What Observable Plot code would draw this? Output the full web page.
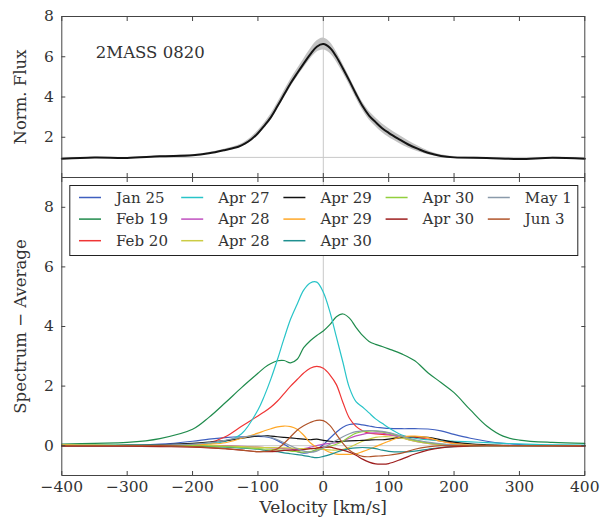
<!DOCTYPE html>
<html><head><meta charset="utf-8">
<script src="https://cdn.jsdelivr.net/npm/d3@7"></script>
<script src="https://cdn.jsdelivr.net/npm/@observablehq/plot@0.6"></script>
<style>
body{margin:0;background:#fff}
#wrap{position:relative;width:606px;height:517px;overflow:hidden}
#wrap svg{position:absolute;left:0;top:0}
#wrap svg, #wrap svg text{font-family:"DejaVu Serif" !important}
</style></head>
<body><div id="wrap"></div>
<script>
// ---------- data ----------
const topV     = [-400,-350,-300,-250,-200,-175,-150,-130,-120,-110,-100,-90,-80,-70,-60,-50,-40,-30,-20,-10,0,10,20,30,40,50,60,70,80,90,100,115,130,145,160,180,200,250,300,350,400];
const meanFlux = [0.93,0.99,0.97,1.05,1.10,1.20,1.37,1.53,1.68,1.90,2.20,2.58,3.00,3.55,4.12,4.68,5.18,5.66,6.12,6.50,6.63,6.45,6.00,5.42,4.80,4.15,3.55,3.08,2.75,2.45,2.22,1.92,1.64,1.42,1.23,1.07,1.00,0.97,0.92,0.98,0.93];
const stdFlux  = [0.02,0.02,0.02,0.02,0.03,0.04,0.05,0.07,0.08,0.10,0.12,0.13,0.15,0.16,0.18,0.19,0.20,0.22,0.25,0.28,0.30,0.28,0.25,0.22,0.20,0.20,0.20,0.21,0.22,0.22,0.22,0.20,0.18,0.14,0.10,0.06,0.04,0.02,0.02,0.02,0.02];

const V = [-400,-350,-300,-250,-200,-175,-150,-125,-100,-90,-80,-70,-60,-50,-40,-30,-20,-10,0,10,20,30,40,50,60,70,80,90,100,120,140,160,180,200,225,250,275,300,350,400];
const jan25  = [0,0,0.02,0.05,0.15,0.22,0.27,0.30,0.31,0.30,0.26,0.17,0.05,-0.08,-0.20,-0.25,-0.22,-0.12,0.03,0.25,0.45,0.62,0.71,0.73,0.70,0.66,0.62,0.60,0.58,0.57,0.57,0.56,0.50,0.38,0.25,0.15,0.08,0.04,0.01,0];
const feb19  = [0.05,0.08,0.11,0.24,0.55,0.95,1.44,1.95,2.43,2.62,2.76,2.85,2.86,2.78,2.90,3.29,3.52,3.70,3.85,4.06,4.33,4.42,4.28,3.97,3.70,3.50,3.40,3.33,3.25,3.08,2.85,2.45,2.12,1.78,1.20,0.66,0.32,0.19,0.11,0.08];
const feb20  = [0,0,0,0,0.05,0.10,0.30,0.65,1.00,1.14,1.30,1.50,1.75,2.00,2.22,2.44,2.60,2.66,2.60,2.38,2.05,1.45,0.92,0.65,0.50,0.42,0.40,0.38,0.36,0.32,0.28,0.22,0.15,0.08,0.03,0.01,0,0,0,0];
const apr27  = [0.02,0.03,0.03,0.03,0.05,0.08,0.14,0.40,1.20,1.68,2.25,2.90,3.60,4.25,4.75,5.22,5.46,5.49,5.15,4.50,3.65,2.80,1.94,1.48,1.30,1.10,0.90,0.75,0.60,0.36,0.25,0.20,0.17,0.15,0.13,0.10,0.08,0.06,0.03,0.02];
const apr28a = [0,0,0,0,0,0,0,-0.02,-0.05,-0.06,-0.07,-0.08,-0.10,-0.11,-0.12,-0.10,-0.05,0,0.05,0.08,0.10,0.15,0.25,0.33,0.38,0.42,0.43,0.42,0.38,0.27,0.15,0.08,0.03,0.01,0,0,0,0,0,0];
const apr28b = [0.03,0.02,0.01,0,0,0,-0.01,-0.03,-0.05,-0.06,-0.06,-0.07,-0.07,-0.08,-0.09,-0.10,-0.10,-0.11,-0.12,-0.14,-0.15,-0.12,-0.05,0.05,0.15,0.22,0.28,0.30,0.30,0.25,0.15,0.08,0.04,0.02,0,0,0,0,0,0];
const apr29a = [0,0,0.01,0.03,0.08,0.12,0.17,0.25,0.33,0.34,0.32,0.30,0.28,0.26,0.24,0.22,0.20,0.22,0.18,0.15,0.14,0.15,0.16,0.17,0.18,0.19,0.20,0.20,0.22,0.28,0.30,0.28,0.20,0.12,0.06,0.03,0.01,0,0,0];
const apr29b = [0.02,0.01,0,0,0.02,0.05,0.10,0.25,0.42,0.50,0.57,0.63,0.66,0.64,0.55,0.35,0.10,-0.05,-0.12,-0.22,-0.28,-0.29,-0.29,-0.27,-0.20,-0.12,-0.03,0.06,0.15,0.30,0.32,0.27,0.15,0.07,0.03,0.01,0,0,0,0];
const apr30a = [-0.01,-0.01,-0.01,-0.01,-0.02,-0.03,-0.05,-0.08,-0.12,-0.15,-0.18,-0.20,-0.24,-0.27,-0.30,-0.33,-0.37,-0.40,-0.36,-0.30,-0.22,-0.15,-0.10,-0.07,-0.06,-0.07,-0.10,-0.15,-0.19,-0.21,-0.18,-0.12,-0.06,-0.03,-0.01,0,0,0,0,0];
const apr30b = [0,0,0,0,0,-0.01,-0.03,-0.06,-0.10,-0.11,-0.12,-0.14,-0.15,-0.18,-0.20,-0.22,-0.20,-0.15,-0.08,-0.02,0.05,0.15,0.30,0.42,0.47,0.49,0.49,0.46,0.42,0.30,0.18,0.10,0.05,0.02,0,0,0,0,0,0];
const apr30c = [-0.02,-0.02,-0.02,-0.03,-0.05,-0.07,-0.10,-0.15,-0.20,-0.20,-0.20,-0.18,-0.16,-0.15,-0.15,-0.13,-0.10,-0.08,-0.05,-0.05,-0.10,-0.15,-0.22,-0.32,-0.45,-0.55,-0.61,-0.62,-0.60,-0.45,-0.28,-0.15,-0.07,-0.03,-0.01,0,0,0,-0.01,-0.02];
const may1   = [0,0,0,0.02,0.05,0.10,0.18,0.28,0.35,0.33,0.28,0.20,0.10,0,-0.10,-0.18,-0.22,-0.18,-0.08,0.05,0.18,0.30,0.40,0.47,0.50,0.51,0.50,0.48,0.44,0.32,0.20,0.12,0.06,0.03,0.01,0,0,0,0,0];
const jun3   = [0,0,0,0,-0.03,-0.06,-0.10,-0.15,-0.20,-0.19,-0.17,-0.10,0.08,0.30,0.52,0.67,0.78,0.85,0.84,0.68,0.38,0.08,-0.15,-0.28,-0.36,-0.37,-0.35,-0.34,-0.32,-0.25,-0.12,-0.04,0,0,0,0,0,0,0,0];

const seriesNames  = ["Jan 25","Feb 19","Feb 20","Apr 27","Apr 28","Apr 28","Apr 29","Apr 29","Apr 30","Apr 30","Apr 30","May 1","Jun 3"];
const seriesColors = ["#3f5fbf","#1f8b4c","#ef3535","#28c4c8","#c050c0","#cccc44","#111111","#ffa828","#1f9090","#92cf3c","#9e1e1e","#8a9aaa","#b0542a"];
const seriesValues = [jan25,feb19,feb20,apr27,apr28a,apr28b,apr29a,apr29b,apr30a,apr30b,apr30c,may1,jun3];

const xTicks = [-400,-300,-200,-100,0,100,200,300,400];
const yTicksTop = [2,4,6,8];
const yTicksBottom = [0,2,4,6,8];

// ---------- layout ----------
const FONT = "DejaVu Serif";
const W = 606, ML = 61.3, MR = 21.7;
const TXT = "#333", FR = "#444", GRID = "#c8c8c8";
const minus = d => d < 0 ? "\u2212" + (-d) : String(d);

function sideTicks(yt) {
  return [
    Plot.axisX({anchor:"bottom", ticks:xTicks, tickSize:-4, tickFormat:()=>"", label:null, stroke:FR}),
    Plot.axisX({anchor:"top", ticks:xTicks, tickSize:-4, tickFormat:()=>"", label:null, stroke:FR}),
    Plot.axisY({anchor:"left", ticks:yt, tickSize:-4, tickFormat:()=>"", label:null, stroke:FR}),
    Plot.axisY({anchor:"right", ticks:yt, tickSize:-4, tickFormat:()=>"", label:null, stroke:FR}),
    Plot.axisY({anchor:"left", ticks:yt, tickSize:0, tickPadding:8, tickFormat:minus, label:null, fontSize:15.5, fontFamily:FONT})
  ];
}

const topRows = topV.map((v,i)=>({v, m:meanFlux[i], s:stdFlux[i]}));

const topPlot = Plot.plot({
  width: W, height: 177, marginLeft: ML, marginRight: MR, marginTop: 16, marginBottom: 0,
  style: {fontFamily: FONT, fontSize: "15.5px", color: TXT, background: "transparent", overflow: "visible"},
  x: {domain: [-400, 400]},
  y: {domain: [0, 8]},
  marks: [
    Plot.ruleX([0], {stroke: GRID, strokeWidth: 1}),
    Plot.ruleY([1], {stroke: GRID, strokeWidth: 1}),
    Plot.areaY(topRows, {x:"v", y1:d=>d.m-d.s, y2:d=>d.m+d.s, fill:"#c3c3c3", curve:"catmull-rom"}),
    Plot.line(topRows, {x:"v", y:"m", stroke:"#141414", strokeWidth:2, curve:"catmull-rom"}),
    Plot.frame({stroke: FR}),
    ...sideTicks(yTicksTop),
    Plot.text(["2MASS 0820"], {text:d=>d, frameAnchor:"top-left", dx:34, dy:36, textAnchor:"start", lineAnchor:"middle", fontSize:16.5, fontFamily:FONT, fill:TXT}),
    Plot.text(["Norm. Flux"], {text:d=>d, frameAnchor:"left", dx:-41, rotate:-90, textAnchor:"middle", lineAnchor:"middle", fontSize:16.5, fontFamily:FONT, fill:TXT})
  ]
});

const bottomMarks = seriesValues.map((vals, i) =>
  Plot.line(V, {x: d=>d, y: (d,j)=>vals[j], stroke: seriesColors[i], strokeWidth: 1.2, curve: "catmull-rom"})
);

const bottomPlot = Plot.plot({
  width: W, height: 517, marginLeft: ML, marginRight: MR, marginTop: 177, marginBottom: 42,
  style: {fontFamily: FONT, fontSize: "15.5px", color: TXT, background: "transparent", overflow: "visible"},
  x: {domain: [-400, 400]},
  y: {domain: [-1, 9]},
  marks: [
    Plot.ruleX([0], {stroke: GRID, strokeWidth: 1}),
    Plot.ruleY([0], {stroke: GRID, strokeWidth: 1}),
    ...bottomMarks,
    Plot.frame({stroke: FR}),
    ...sideTicks(yTicksBottom),
    Plot.axisX({anchor:"bottom", ticks:xTicks, tickSize:0, tickPadding:5, tickFormat:minus, label:null, fontSize:15.5, fontFamily:FONT}),
    Plot.text(["Spectrum \u2212 Average"], {text:d=>d, frameAnchor:"left", dx:-41, rotate:-90, textAnchor:"middle", lineAnchor:"middle", fontSize:16.5, fontFamily:FONT, fill:TXT}),
    Plot.text(["Velocity [km/s]"], {text:d=>d, frameAnchor:"bottom", dy:32, textAnchor:"middle", lineAnchor:"middle", fontSize:17, fontFamily:FONT, fill:TXT})
  ]
});

const wrap = document.getElementById("wrap");
wrap.appendChild(topPlot);
wrap.appendChild(bottomPlot);

// ---------- legend (matplotlib-style ncol=5: columns of 3,3,3,2,2) ----------
const LX = 69.3, LY = 185, LW = 508, LH = 70;
const colSizes = [3,3,3,2,2];
const leg = d3.select(wrap).append("svg").attr("width", W).attr("height", 517)
  .style("font-family", FONT).style("font-size", "15px");
leg.append("rect").attr("x", LX+0.5).attr("y", LY+0.5).attr("width", LW).attr("height", LH)
  .attr("fill", "#fff").attr("stroke", "#222").attr("stroke-width", 1);
let idx = 0;
colSizes.forEach((n, col) => {
  for (let row = 0; row < n; row++, idx++) {
    const x0 = LX + 9.7 + col * 102.2, y0 = LY + 12.5 + row * 21.6;
    leg.append("line").attr("x1", x0).attr("x2", x0 + 22).attr("y1", y0).attr("y2", y0)
      .attr("stroke", seriesColors[idx]).attr("stroke-width", 1.5);
    leg.append("text").attr("x", x0 + 37).attr("y", y0).attr("dy", "0.35em")
      .attr("fill", TXT).text(seriesNames[idx]);
  }
});

// make sure every text uses the serif face
d3.select(wrap).selectAll("text, g").style("font-family", FONT);
</script>
</body></html>
